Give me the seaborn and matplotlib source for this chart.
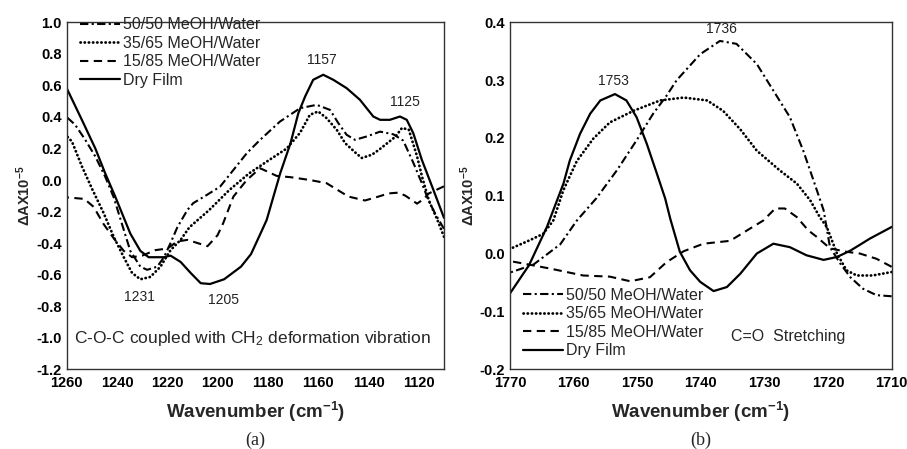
import numpy as np
import matplotlib
matplotlib.use('Agg')
import matplotlib.pyplot as plt
import seaborn as sns
from matplotlib.ticker import MultipleLocator

# panel (a): C-O-C region
wn_a_5050 = [1260, 1256.6, 1252.6, 1248.6, 1244.7, 1241.3, 1238, 1234.7, 1230.7, 1228, 1224, 1221.3, 1218.7,
             1216, 1212, 1209.7, 1204.3, 1199, 1193.7, 1188.4, 1183.1, 1175.2, 1167.2, 1160.6, 1155.3,
             1152, 1148.7, 1145.4, 1140.8, 1135.4, 1130.1, 1126.2, 1122.2, 1118.8, 1116.2, 1113.6, 1110]
ab_a_5050 = [0.40, 0.35, 0.255, 0.149, 0.022, -0.11, -0.28, -0.45, -0.55, -0.57, -0.55, -0.49, -0.40,
             -0.30, -0.19, -0.147, -0.095, -0.042, 0.064, 0.17, 0.255, 0.371, 0.456, 0.477, 0.445,
             0.361, 0.287, 0.255, 0.276, 0.307, 0.29, 0.25, 0.11, -0.02, -0.127, -0.21, -0.31]

wn_a_3565 = [1260, 1257.9, 1253.9, 1249.7, 1245.3, 1241.3, 1237.3, 1234, 1230.7, 1226.7, 1222.7, 1218.7,
             1214.7, 1211.2, 1203.3, 1195.3, 1187.4, 1179.4, 1172.5, 1167.2, 1163.3, 1160, 1156.7,
             1152.6, 1149.3, 1145.3, 1142.7, 1138.7, 1136, 1129.3, 1126.7, 1124, 1120.7, 1118.7, 1116,
             1112.7, 1110]
ab_a_3565 = [0.28, 0.244, 0.085, -0.063, -0.21, -0.36, -0.49, -0.59, -0.63, -0.615, -0.55, -0.445,
             -0.38, -0.30, -0.19, -0.063, 0.043, 0.128, 0.20, 0.30, 0.414, 0.435, 0.393,
             0.318, 0.234, 0.175, 0.14, 0.16, 0.19, 0.275, 0.33, 0.32, 0.15, 0.02, -0.13,
             -0.25, -0.36]

wn_a_1585 = [1260, 1253, 1249.3, 1245.3, 1241.3, 1237.3, 1234, 1230, 1224.7, 1220, 1216, 1212, 1208,
             1204, 1200, 1197.8, 1193.7, 1188.4, 1183.1, 1176.5, 1171, 1163.3, 1156.7, 1148, 1141.4,
             1136, 1132, 1128, 1125.3, 1120.7, 1118, 1116, 1110]
ab_a_1585 = [-0.11, -0.12, -0.17, -0.28, -0.37, -0.45, -0.49, -0.48, -0.445, -0.435, -0.39, -0.38, -0.40,
             -0.42, -0.35, -0.275, -0.105, 0.0, 0.075, 0.026, 0.018, 0.0, -0.02, -0.105, -0.13,
             -0.105, -0.085, -0.08, -0.10, -0.15, -0.12, -0.085, -0.04]

wn_a_dry = [1260, 1253.9, 1248.6, 1244.7, 1240.7, 1234.7, 1230.7, 1227.4, 1221.4, 1218.7, 1214.7, 1210.7,
            1206.7, 1203, 1197.4, 1190.7, 1186.7, 1181.8, 1180.5, 1175.1, 1171, 1167.9, 1165.2, 1162,
            1158, 1154, 1148.7, 1143.4, 1138.1, 1135.4, 1131.5, 1127.5, 1124.8, 1122.2, 1118.8, 1114.2,
            1110]
ab_a_dry = [0.583, 0.38, 0.20, 0.043, -0.105, -0.34, -0.45, -0.49, -0.49, -0.48, -0.52, -0.59,
            -0.655, -0.66, -0.63, -0.55, -0.47, -0.30, -0.254, 0.043, 0.234, 0.424, 0.53, 0.636,
            0.668, 0.636, 0.583, 0.509, 0.403, 0.382, 0.382, 0.403, 0.382, 0.297, 0.128, -0.063,
            -0.24]

# panel (b): C=O stretching
wn_b_5050 = [1770, 1766.3, 1762.1, 1759.5, 1756.4, 1753.2, 1750.1, 1747.5, 1745.4, 1743.8, 1740.1, 1737,
             1734.4, 1731.2, 1728.6, 1726, 1723.9, 1722.3, 1720.7, 1719.7, 1718.1, 1716.5, 1714.5,
             1712.4, 1710]
ab_b_5050 = [-0.033, -0.019, 0.016, 0.057, 0.096, 0.144, 0.196, 0.242, 0.273, 0.30, 0.345, 0.368,
             0.363, 0.328, 0.282, 0.236, 0.178, 0.127, 0.075, 0.011, -0.017, -0.041, -0.061,
             -0.072, -0.074]

wn_b_3565 = [1770, 1766.9, 1764.8, 1763.2, 1761.6, 1759.5, 1756.9, 1754.3, 1750.6, 1746.4, 1742.7,
             1739, 1736.5, 1733.8, 1731.2, 1727.6, 1724.9, 1722.8, 1721.3, 1720.2, 1718.6, 1717.1,
             1715.5, 1713, 1710]
ab_b_3565 = [0.008, 0.023, 0.034, 0.057, 0.11, 0.16, 0.199, 0.227, 0.247, 0.265, 0.27,
             0.265, 0.247, 0.215, 0.178, 0.144, 0.121, 0.092, 0.063, 0.046, 0.0, -0.029,
             -0.038, -0.038, -0.032]

wn_b_1585 = [1770, 1763.7, 1758.5, 1754.3, 1751.1, 1748, 1745.4, 1742.7, 1739.6, 1735.4, 1732.3,
             1730.2, 1728.3, 1726.8, 1724.9, 1723.1, 1721.8, 1719.7, 1717.1, 1715, 1712.4, 1710]
ab_b_1585 = [-0.013, -0.026, -0.038, -0.04, -0.048, -0.041, -0.015, 0.004, 0.017, 0.022, 0.043,
             0.057, 0.078, 0.078, 0.063, 0.04, 0.029, 0.009, 0.003, 0.0, -0.009, -0.023]

wn_b_dry = [1770, 1767, 1764.2, 1761.6, 1760.6, 1759, 1757.4, 1755.8, 1753.5, 1751.7, 1750.1, 1748.5,
            1746.9, 1745.6, 1744.8, 1743.3, 1741.7, 1740.1, 1738, 1735.9, 1733.8, 1731.2, 1728.6, 1726,
            1723.4, 1720.7, 1718.6, 1716.5, 1713.4, 1710]
ab_b_dry = [-0.069, -0.02, 0.046, 0.121, 0.161, 0.207, 0.242, 0.265, 0.276, 0.265, 0.236, 0.19,
            0.138, 0.095, 0.06, 0.003, -0.029, -0.049, -0.065, -0.058, -0.035, 0.0, 0.017, 0.011,
            -0.003, -0.011, -0.006, 0.005, 0.026, 0.046]

labels = ['50/50 MeOH/Water', '35/65 MeOH/Water', '15/85 MeOH/Water', 'Dry Film']
styles = [(0, (4, 1.6, 1, 1.6)), (0, (0.1, 1.4)), (0, (4, 2.6)), '-']
widths = [1.5, 2.0, 1.5, 1.6]

sns.set_style('white')
plt.rcParams['font.family'] = ['Liberation Sans', 'DejaVu Sans']
plt.rcParams['mathtext.fontset'] = 'custom'
plt.rcParams['mathtext.rm'] = 'Liberation Sans'
plt.rcParams['mathtext.bf'] = 'Liberation Sans:bold'
plt.rcParams['mathtext.it'] = 'Liberation Sans:italic'

fig = plt.figure(figsize=(9.07, 4.49), dpi=100)
ax1 = fig.add_axes([0.0735, 0.178, 0.416, 0.772])
ax2 = fig.add_axes([0.5623, 0.178, 0.4208, 0.772])

series_a = [(wn_a_5050, ab_a_5050), (wn_a_3565, ab_a_3565), (wn_a_1585, ab_a_1585), (wn_a_dry, ab_a_dry)]
series_b = [(wn_b_5050, ab_b_5050), (wn_b_3565, ab_b_3565), (wn_b_1585, ab_b_1585), (wn_b_dry, ab_b_dry)]

for ax, series in [(ax1, series_a), (ax2, series_b)]:
    for (x, y), lab, ls, lw in zip(series, labels, styles, widths):
        sns.lineplot(x=x, y=y, ax=ax, color='black', linewidth=lw, linestyle=ls, label=lab,
                     dash_capstyle='round' if lab.startswith('35') else 'butt')

for ax in (ax1, ax2):
    for s in ax.spines.values():
        s.set_color('#333333')
        s.set_linewidth(1.0)
    ax.tick_params(which='both', direction='in', top=False, right=False, colors='#333333',
                   labelcolor='black', labelsize=10.5)
    ax.tick_params(which='major', length=4, width=0.9)
    ax.tick_params(which='minor', length=2.5, width=0.8)
    ax.tick_params(axis='x', which='major', pad=5)
    ax.set_xlabel('Wavenumber (cm$^{\\mathbf{-1}}$)', fontsize=13.5, fontweight='bold', labelpad=7)
    ax.set_ylabel('ΔAX10$^{\\mathbf{-5}}$', fontsize=10.5, fontweight='bold', labelpad=2)

# panel (a) axes
a_xt = [1260, 1240, 1220, 1200, 1180, 1160, 1140, 1120]
a_yt = [-1.2, -1.0, -0.8, -0.6, -0.4, -0.2, 0.0, 0.2, 0.4, 0.6, 0.8, 1.0]
ax1.set_xlim(1260, 1110)
ax1.set_ylim(-1.2, 1.0)
ax1.xaxis.set_minor_locator(MultipleLocator(10))
ax1.yaxis.set_minor_locator(MultipleLocator(0.1))
ax1.set_xticks(a_xt)
ax1.set_xticklabels([str(v) for v in a_xt], fontweight='bold')
ax1.set_yticks(a_yt)
ax1.set_yticklabels([f'{v:.1f}' for v in a_yt], fontweight='bold')

# panel (b) axes
b_xt = [1770, 1760, 1750, 1740, 1730, 1720, 1710]
b_yt = [-0.2, -0.1, 0.0, 0.1, 0.2, 0.3, 0.4]
ax2.set_xlim(1770, 1710)
ax2.set_ylim(-0.2, 0.4)
ax2.xaxis.set_minor_locator(MultipleLocator(5))
ax2.yaxis.set_minor_locator(MultipleLocator(0.05))
ax2.set_xticks(b_xt)
ax2.set_xticklabels([str(v) for v in b_xt], fontweight='bold')
ax2.set_yticks(b_yt)
ax2.set_yticklabels([f'{v:.1f}' for v in b_yt], fontweight='bold')

leg_kw = dict(frameon=False, fontsize=11.5, handlelength=2.5, handletextpad=0.2,
              labelspacing=0.22, borderpad=0, borderaxespad=0, loc='upper left')
ax1.legend(bbox_to_anchor=(0.035, 1.015), **leg_kw)
ax2.legend(bbox_to_anchor=(0.034, 0.235), **leg_kw)

# peak annotations
ann = dict(fontsize=10, color='#222222', ha='center', va='center')
ax1.text(1158.6, 0.764, '1157', **ann)
ax1.text(1125.5, 0.498, '1125', **ann)
ax1.text(1231, -0.74, '1231', **ann)
ax1.text(1197.5, -0.76, '1205', **ann)
ax1.text(0.492, 0.089, 'C-O-C coupled with CH$_2$ deformation vibration', transform=ax1.transAxes,
         fontsize=12.5, ha='center', va='center')
ax2.text(1736.7, 0.389, '1736', **ann)
ax2.text(1753.8, 0.299, '1753', **ann)
ax2.text(0.73, 0.094, 'C=O  Stretching', transform=ax2.transAxes, fontsize=11.5, ha='center', va='center')

fig.text(0.2815, 0.02, '(a)', family='Liberation Serif', fontsize=13, ha='center', va='center')
fig.text(0.7727, 0.02, '(b)', family='Liberation Serif', fontsize=13, ha='center', va='center')

fig.savefig('out.png', dpi=100)
